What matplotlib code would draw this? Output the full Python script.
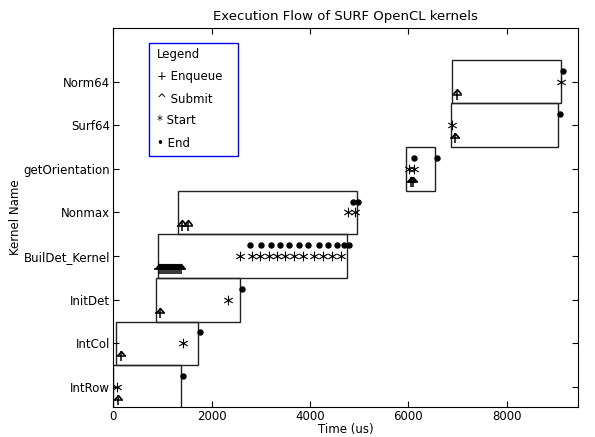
import matplotlib
matplotlib.use("Agg")
import matplotlib.pyplot as plt
from matplotlib.patches import Rectangle
from matplotlib.path import Path

import sys

kernels = [
  "IntRow",
  "IntCol",
  "InitDet",
  "BuilDet_Kernel",
  "Nonmax",
  "getOrientation",
  "Surf64",
  "Norm64",
]

# box extents per kernel (us)
box_starts = [0, 60, 873, 920, 1313, 5955, 6856, 6890]
box_ends = [1380, 1725, 2580, 4757, 4961, 6538, 9029, 9096]

# per-launch event times (us), one list per kernel
enqueue_times = [
  [100],
  [160],
  [955],
  [935, 980, 1020, 1060, 1100, 1140, 1180, 1220, 1260, 1300, 1340, 1380],
  [1394, 1529],
  [6045, 6098],
  [6944],
  [6978],
]
submit_times = [
  [100],
  [160],
  [955],
  [935, 980, 1020, 1060, 1100, 1140, 1180, 1220, 1260, 1300, 1340, 1380],
  [1394, 1529],
  [6045, 6098],
  [6944],
  [6978],
]
start_times = [
  [80],
  [1420],
  [2335],
  [2579, 2830, 2990, 3160, 3330, 3500, 3680, 3860, 4080, 4260, 4450, 4640],
  [4778, 4914],
  [6010, 6118],
  [6890],
  [9096],
]
end_times = [
  [1425],
  [1766],
  [2620],
  [2782, 2999, 3208, 3391, 3574, 3777, 3966, 4183, 4359, 4542, 4690, 4798],
  [4880, 4981],
  [6122, 6585],
  [9076],
  [9131],
]

legend_lines = ["Legend", "+ Enqueue", "^ Submit", "* Start", "\u2022 End"]

# thin line markers (caret and six-arm asterisk)
caret = Path([(-1, -0.7), (0, 0.5), (1, -0.7)], [Path.MOVETO, Path.LINETO, Path.LINETO])
asterisk = Path(
  [(0, -1), (0, 1), (-0.87, -0.5), (0.87, 0.5), (-0.87, 0.5), (0.87, -0.5)],
  [Path.MOVETO, Path.LINETO, Path.MOVETO, Path.LINETO, Path.MOVETO, Path.LINETO],
)


def main():
  plt.rcParams['font.family'] = ['DejaVu Sans']
  fig = plt.figure(figsize=(5.95, 4.37), dpi=100)
  ax = fig.add_axes([0.190, 0.0686, 0.781, 0.8674])

  for i, name in enumerate(kernels):
    ax.add_patch(Rectangle((box_starts[i], i - 0.5), box_ends[i] - box_starts[i], 1.0,
                           fill=False, edgecolor="#222222", linewidth=1.0))
    ax.plot(enqueue_times[i], [i - 0.3] * len(enqueue_times[i]), linestyle="none", marker="+",
            markersize=7, markeredgewidth=1.1, color="black")
    ax.plot(submit_times[i], [i - 0.225] * len(submit_times[i]), linestyle="none",
            marker=caret, markersize=5.5, markeredgewidth=1.2, markerfacecolor="none",
            color="black")
    ax.plot(start_times[i], [i] * len(start_times[i]), linestyle="none",
            marker=asterisk, markersize=7, markeredgewidth=0.8, markerfacecolor="none",
            color="black")
    ax.plot(end_times[i], [i + 0.25] * len(end_times[i]), linestyle="none",
            marker="o", markersize=3.6, color="black")

  ax.set_xlim(0, 9440)
  ax.set_ylim(-0.46, 8.23)
  ax.set_yticks(range(len(kernels)))
  ax.set_yticklabels(kernels)
  ax.set_xticks([0, 2000, 4000, 6000, 8000])
  ax.tick_params(direction="in", top=True, right=True, labelsize=8.5, length=4, pad=2)
  ax.set_xlabel("Time (us)", fontsize=8.5, labelpad=0)
  ax.set_ylabel("Kernel Name", fontsize=8.5, labelpad=1)
  ax.set_title("Execution Flow of SURF OpenCL kernels", fontsize=9.5, pad=6)

  # hand-made legend box
  ax.add_patch(Rectangle((0.0774, 0.662), 0.1916, 0.298, transform=ax.transAxes,
                         fill=False, edgecolor="blue", linewidth=1.0))
  ys = [0.929, 0.873, 0.810, 0.755, 0.694]
  for txt, y in zip(legend_lines, ys):
    ax.text(0.0946, y, txt, transform=ax.transAxes, fontsize=8.5, va="center", ha="left")

  fig.savefig("out.png", dpi=100)

if __name__ == "__main__":
  sys.exit(main())
